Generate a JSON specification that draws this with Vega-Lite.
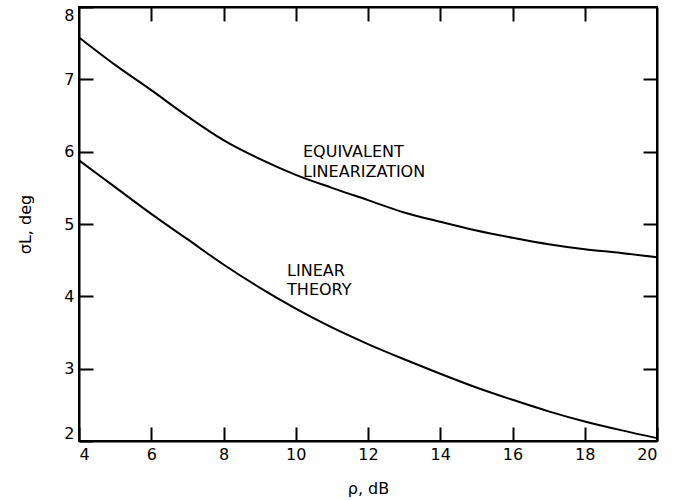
{
  "$schema": "https://vega.github.io/schema/vega-lite/v6.json",
  "width": 578,
  "height": 434,
  "autosize": "none",
  "padding": {"left": 79, "top": 7, "right": 18, "bottom": 59},
  "background": "white",
  "config": {
    "view": {"stroke": "black", "strokeWidth": 2},
    "font": "DejaVu Sans",
    "axis": {
      "domainColor": "black", "domainWidth": 2, "tickColor": "black", "tickWidth": 2,
      "tickSize": -14, "grid": false, "labelFont": "DejaVu Sans", "labelFontSize": 16,
      "labelColor": "black", "titleFont": "DejaVu Sans", "titleFontSize": 16,
      "titleFontWeight": "normal", "titleColor": "black", "labelPadding": 19,
      "labelFlush": true
    }
  },
  "datasets": {
    "curves": [
      {"rho": 4, "sigma": 7.58, "curve": "Equivalent linearization"},
      {"rho": 5, "sigma": 7.2, "curve": "Equivalent linearization"},
      {"rho": 6, "sigma": 6.85, "curve": "Equivalent linearization"},
      {"rho": 7, "sigma": 6.49, "curve": "Equivalent linearization"},
      {"rho": 8, "sigma": 6.16, "curve": "Equivalent linearization"},
      {"rho": 9, "sigma": 5.9, "curve": "Equivalent linearization"},
      {"rho": 10, "sigma": 5.68, "curve": "Equivalent linearization"},
      {"rho": 11, "sigma": 5.5, "curve": "Equivalent linearization"},
      {"rho": 12, "sigma": 5.33, "curve": "Equivalent linearization"},
      {"rho": 13, "sigma": 5.16, "curve": "Equivalent linearization"},
      {"rho": 14, "sigma": 5.03, "curve": "Equivalent linearization"},
      {"rho": 15, "sigma": 4.91, "curve": "Equivalent linearization"},
      {"rho": 16, "sigma": 4.81, "curve": "Equivalent linearization"},
      {"rho": 17, "sigma": 4.72, "curve": "Equivalent linearization"},
      {"rho": 18, "sigma": 4.65, "curve": "Equivalent linearization"},
      {"rho": 19, "sigma": 4.6, "curve": "Equivalent linearization"},
      {"rho": 20, "sigma": 4.54, "curve": "Equivalent linearization"},
      {"rho": 4, "sigma": 5.88, "curve": "Linear theory"},
      {"rho": 5, "sigma": 5.51, "curve": "Linear theory"},
      {"rho": 6, "sigma": 5.14, "curve": "Linear theory"},
      {"rho": 7, "sigma": 4.79, "curve": "Linear theory"},
      {"rho": 8, "sigma": 4.44, "curve": "Linear theory"},
      {"rho": 9, "sigma": 4.12, "curve": "Linear theory"},
      {"rho": 10, "sigma": 3.83, "curve": "Linear theory"},
      {"rho": 11, "sigma": 3.57, "curve": "Linear theory"},
      {"rho": 12, "sigma": 3.34, "curve": "Linear theory"},
      {"rho": 13, "sigma": 3.13, "curve": "Linear theory"},
      {"rho": 14, "sigma": 2.93, "curve": "Linear theory"},
      {"rho": 15, "sigma": 2.74, "curve": "Linear theory"},
      {"rho": 16, "sigma": 2.57, "curve": "Linear theory"},
      {"rho": 17, "sigma": 2.41, "curve": "Linear theory"},
      {"rho": 18, "sigma": 2.27, "curve": "Linear theory"},
      {"rho": 19, "sigma": 2.15, "curve": "Linear theory"},
      {"rho": 20, "sigma": 2.04, "curve": "Linear theory"}
    ],
    "labels": [
      {"rho": 10.2, "sigma": 5.99, "text": "EQUIVALENT"},
      {"rho": 10.2, "sigma": 5.72, "text": "LINEARIZATION"},
      {"rho": 9.76, "sigma": 4.35, "text": "LINEAR"},
      {"rho": 9.76, "sigma": 4.09, "text": "THEORY"}
    ]
  },
  "layer": [
    {
      "data": {"name": "curves"},
      "mark": {"type": "line", "color": "black", "strokeWidth": 2, "interpolate": "monotone"},
      "encoding": {
        "x": {"field": "rho", "type": "quantitative", "scale": {"domain": [4, 20], "nice": false},
              "axis": {"values": [4, 6, 8, 10, 12, 14, 16, 18, 20], "title": "ρ, dB", "titlePadding": 18}},
        "y": {"field": "sigma", "type": "quantitative", "scale": {"domain": [2, 8], "nice": false, "zero": false},
              "axis": {"values": [2, 3, 4, 5, 6, 7, 8], "title": "σL, deg", "titlePadding": 30}},
        "detail": {"field": "curve"}
      }
    },
    {
      "data": {"name": "curves"},
      "mark": {"type": "line", "opacity": 0},
      "encoding": {
        "x": {"field": "rho", "type": "quantitative", "scale": {"domain": [4, 20], "nice": false},
              "axis": {"orient": "top", "values": [6, 8, 10, 12, 14, 16, 18], "labels": false, "title": null}},
        "y": {"field": "sigma", "type": "quantitative", "scale": {"domain": [2, 8], "nice": false, "zero": false},
              "axis": {"orient": "right", "values": [3, 4, 5, 6, 7], "labels": false, "title": null}},
        "detail": {"field": "curve"}
      }
    },
    {
      "data": {"name": "labels"},
      "mark": {"type": "text", "align": "left", "baseline": "middle", "fontSize": 16, "font": "DejaVu Sans", "color": "black"},
      "encoding": {
        "x": {"field": "rho", "type": "quantitative", "axis": null},
        "y": {"field": "sigma", "type": "quantitative", "axis": null},
        "text": {"field": "text"}
      }
    }
  ],
  "resolve": {"axis": {"x": "independent", "y": "independent"}}
}
